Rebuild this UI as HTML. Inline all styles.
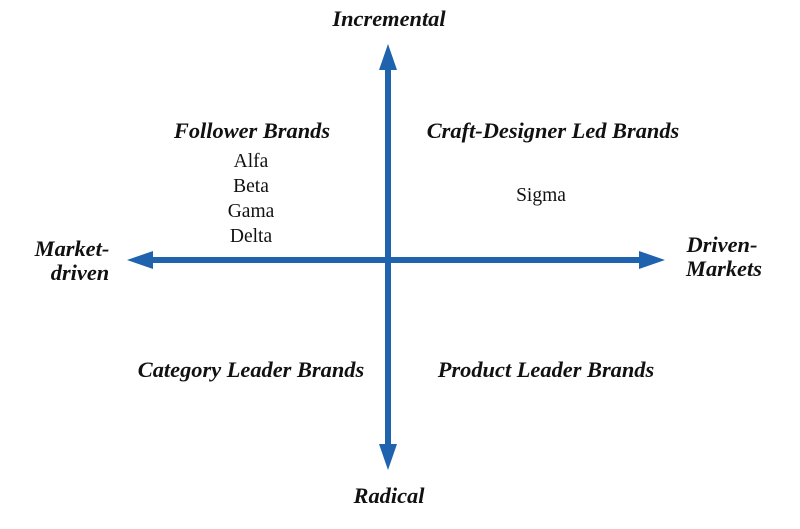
<!DOCTYPE html>
<html><head><meta charset="utf-8"><style>
html,body{margin:0;padding:0;background:#fff;}
svg{display:block;}
text{font-family:"Liberation Serif",serif;fill:#111;}
.b{font-weight:bold;font-style:italic;font-size:22.4px;}
.r{font-size:19.5px;}
</style></head><body>
<svg width="800" height="529" viewBox="0 0 800 529">
<g fill="#1f62ad" stroke="none">
<rect x="385" y="66" width="6" height="380"/>
<polygon points="388,44 379,70 397,70"/>
<polygon points="388,470 379,444 397,444"/>
<rect x="150" y="257" width="492" height="6"/>
<polygon points="127,260 153,251 153,269"/>
<polygon points="665,260 639,251 639,269"/>
</g>
<text class="b" x="389" y="26" text-anchor="middle">Incremental</text>
<text class="b" x="389" y="503" text-anchor="middle">Radical</text>
<text class="b" x="72" y="256" text-anchor="middle">Market-</text>
<text class="b" x="80" y="280" text-anchor="middle">driven</text>
<text class="b" x="722" y="252" text-anchor="middle">Driven-</text>
<text class="b" x="724" y="276" text-anchor="middle">Markets</text>
<text class="b" x="252" y="138" text-anchor="middle">Follower Brands</text>
<text class="r" x="251" y="167" text-anchor="middle">Alfa</text>
<text class="r" x="251" y="192" text-anchor="middle">Beta</text>
<text class="r" x="251" y="217" text-anchor="middle">Gama</text>
<text class="r" x="251" y="242" text-anchor="middle">Delta</text>
<text class="b" x="553" y="138" text-anchor="middle">Craft-Designer Led Brands</text>
<text class="r" x="541" y="201" text-anchor="middle">Sigma</text>
<text class="b" x="251" y="377" text-anchor="middle">Category Leader Brands</text>
<text class="b" x="546" y="377" text-anchor="middle">Product Leader Brands</text>
</svg>
</body></html>
